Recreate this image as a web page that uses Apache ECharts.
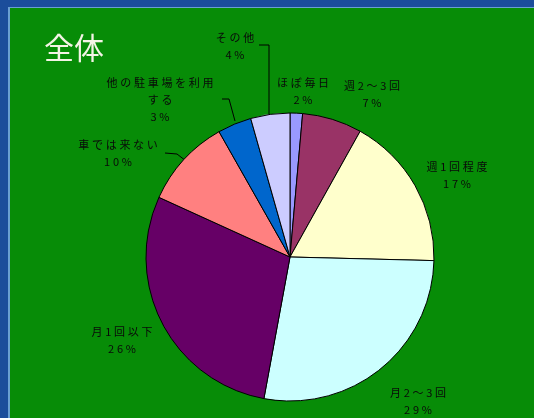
<!DOCTYPE html>
<html>
<head>
<meta charset="utf-8">
<script src="https://cdn.jsdelivr.net/npm/echarts@6/dist/echarts.min.js"></script>
<style>
  html, body { margin: 0; padding: 0; width: 534px; height: 418px; overflow: hidden; background: #1b4d9b; }
  #panel { position: absolute; left: 8px; top: 7px; right: 0; bottom: 0; background: #078c07; border-left: 2px solid #6a9fd2; border-top: 1px solid #6a9fd2; }
  #chart { position: absolute; left: 0; top: 0; width: 534px; height: 418px; }
</style>
</head>
<body>
<div id="panel"></div>
<div id="chart"></div>
<script>
// Categories (clockwise from 12 o'clock)
const categories = ['ほぼ毎日', '週2～3回', '週1回程度', '月2～3回', '月1回以下', '車では来ない', '他の駐車場を利用する', 'その他'];
// Slice sizes as drawn (share of the circle, %)
const values = [1.4, 6.7, 17.3, 27.5, 28.9, 10.0, 3.8, 4.4];
// Percent labels as printed on the chart
const percentLabels = ['2%', '7%', '17%', '29%', '26%', '10%', '3%', '4%'];

const colors = ['#9999ff', '#993366', '#ffffcc', '#ccffff', '#660066', '#ff8080', '#0066cc', '#ccccff'];
// label block centres
const labelPos = [[303, 91], [372, 94], [457, 175], [418, 401], [122, 340], [118, 153], [160, 100], [235, 46]];
// leader lines (only some labels have them)
const leaders = [null, null, null, null, null,
  [[165, 153], [177, 154], [186, 161]],
  [[222, 99], [229, 99], [235, 121]],
  [[259, 45], [269, 45], [269, 114]]];

function spaced(s) { return s.split('').join('\u2005'); }
function labelText(name, pct) {
  let n = name;
  if (n.length > 8) n = spaced(n.slice(0, 8)) + '\n' + spaced(n.slice(8));
  else n = spaced(n);
  return n + '\n' + spaced(pct);
}

const data = categories.map((c, i) => ({
  name: c,
  value: values[i],
  itemStyle: { color: colors[i] },
  labelLine: { show: !!leaders[i] }
}));

const chart = echarts.init(document.getElementById('chart'), null, { renderer: 'canvas' });
chart.setOption({
  backgroundColor: 'transparent',
  animation: false,
  title: {
    text: '全体', left: 39, top: 28,
    textStyle: { color: '#f4f4e6', fontSize: 30, fontWeight: 'normal', fontFamily: 'Noto Sans CJK JP' }
  },
  series: [{
    type: 'pie',
    center: [290, 257],
    radius: 144,
    startAngle: 90,
    clockwise: true,
    avoidLabelOverlap: false,
    itemStyle: { borderColor: '#000', borderWidth: 1 },
    label: {
      show: true,
      position: 'outside',
      color: '#0a0a0a',
      fontSize: 11,
      lineHeight: 17,
      fontFamily: 'Noto Sans CJK JP',
      align: 'center',
      formatter: p => labelText(p.name, percentLabels[p.dataIndex])
    },
    labelLine: { show: true, length: 8, length2: 8, smooth: false, lineStyle: { color: '#000', width: 1 } },
    labelLayout: p => {
      const i = p.dataIndex;
      const o = { x: labelPos[i][0], y: labelPos[i][1], align: 'center', verticalAlign: 'middle' };
      if (leaders[i]) o.labelLinePoints = leaders[i];
      return o;
    },
    emphasis: { disabled: true },
    data: data
  }]
});
</script>
</body>
</html>
